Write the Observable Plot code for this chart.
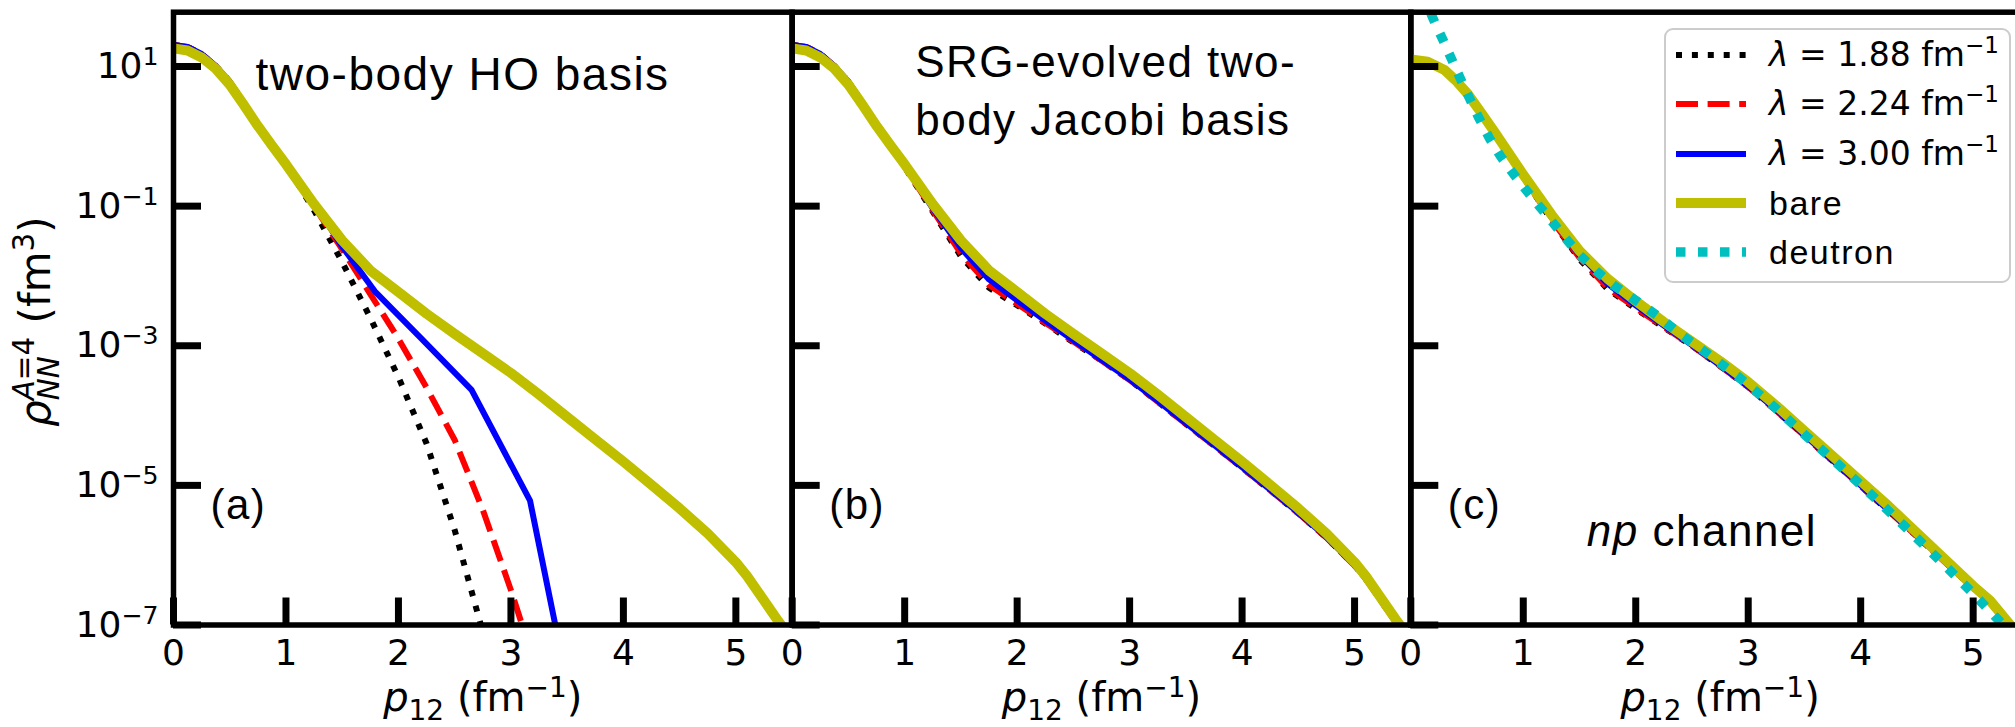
<!DOCTYPE html>
<html><head><meta charset="utf-8">
<script src="https://cdn.jsdelivr.net/npm/d3@7"></script>
<script src="https://cdn.jsdelivr.net/npm/@observablehq/plot@0.6"></script>
<style>
html,body{margin:0;padding:0;background:#fff;}
#chart{position:relative;width:2015px;height:727px;overflow:hidden;background:#fff;}
g[font-family^="Liberation"] text{letter-spacing:1.5px;}
#legend{position:absolute;left:1664px;top:28px;width:347px;height:255px;box-sizing:border-box;border:2px solid #cccccc;border-radius:9px;background:rgba(255,255,255,0.8);}
#legend .row{position:absolute;left:0;width:100%;height:40px;}
#legend svg{position:absolute;left:9px;top:8px;}
#legend .lt{position:absolute;left:103px;top:0;height:40px;line-height:40px;white-space:nowrap;color:#000;}
#legend .math{font-family:'DejaVu Sans';font-size:33px;}
#legend .plain{font-family:'Liberation Sans';font-size:34px;letter-spacing:1.5px;}
#legend .sup{font-size:23px;position:relative;top:-13px;}
</style></head>
<body><div id="chart"></div>
<script>
// ---------- data ----------
const xTicks = [0, 1, 2, 3, 4, 5];
const yTicks = [1e1, 1e-1, 1e-3, 1e-5, 1e-7];
const yTickLabels = ["10^{1}", "10^{−1}", "10^{−3}", "10^{−5}", "10^{−7}"];
const panelLetters = ["(a)", "(b)", "(c)"];
const seriesNames = ["λ = 1.88 fm^{−1}", "λ = 2.24 fm^{−1}", "λ = 3.00 fm^{−1}", "bare", "deutron"];

// panels (a) and (b): common momentum grid, bare curve shared
const pGridAB = [0, 0.125, 0.25, 0.375, 0.5, 0.625, 0.75, 0.875, 1.0, 1.25, 1.5, 1.75, 2.0, 2.25, 2.5, 2.75, 3.0, 3.25, 3.5, 3.75, 4.0, 4.25, 4.5, 4.75, 5.0, 5.1, 5.38, 5.45];
const rhoBare_AB = [18.2, 17.0, 13.5, 9.33, 5.50, 2.82, 1.41, 0.741, 0.398, 0.107, 3.24e-2, 1.20e-2, 5.89e-3, 2.88e-3, 1.48e-3, 7.76e-4, 4.07e-4, 2.00e-4, 9.55e-5, 4.57e-5, 2.19e-5, 1.02e-5, 4.68e-6, 2.04e-6, 7.94e-7, 5.01e-7, 1.12e-7, 7.94e-8];

// panel (a): two-body HO basis
const pBlack_A = [0, 0.125, 0.25, 0.375, 0.5, 0.625, 0.75, 0.875, 1.0, 1.25, 1.5, 1.75, 2.0, 2.25, 2.5, 2.75];
const rhoBlack_A = [20.4, 19.1, 15.1, 10.2, 6.03, 3.02, 1.48, 0.759, 0.398, 8.71e-2, 1.58e-2, 2.51e-3, 3.55e-4, 3.98e-5, 2.29e-6, 7.94e-8];
const pRed_A = [0, 0.125, 0.25, 0.375, 0.5, 0.625, 0.75, 0.875, 1.0, 1.25, 1.5, 1.75, 2.0, 2.25, 2.5, 2.75, 3.0, 3.15];
const rhoRed_A = [20.4, 19.1, 15.1, 10.2, 6.03, 3.02, 1.48, 0.759, 0.398, 0.100, 2.40e-2, 5.50e-3, 1.26e-3, 2.51e-4, 4.47e-5, 4.47e-6, 3.16e-7, 5.62e-8];
const pBlue_A = [0, 0.125, 0.25, 0.375, 0.5, 0.625, 0.75, 0.875, 1.0, 1.25, 1.5, 1.79, 2.2, 2.65, 3.17, 3.42];
const rhoBlue_A = [20.4, 19.1, 15.1, 10.2, 6.03, 3.02, 1.48, 0.759, 0.398, 0.112, 2.63e-2, 6.03e-3, 1.29e-3, 2.34e-4, 6.03e-6, 6.31e-8];

// panel (b): SRG-evolved two-body Jacobi basis (on pGridAB)
const rhoBlack_B = [20.4, 19.1, 15.1, 10.2, 6.03, 3.02, 1.45, 0.741, 0.363, 8.32e-2, 1.91e-2, 6.76e-3, 3.80e-3, 2.09e-3, 1.12e-3, 6.17e-4, 3.24e-4, 1.58e-4, 7.59e-5, 3.72e-5, 1.78e-5, 8.51e-6, 3.98e-6, 1.78e-6, 7.08e-7, 4.57e-7, 1.02e-7, 7.08e-8];
const rhoRed_B = [20.4, 19.1, 15.1, 10.2, 6.03, 3.02, 1.45, 0.741, 0.372, 8.71e-2, 2.09e-2, 7.41e-3, 3.98e-3, 2.14e-3, 1.15e-3, 6.17e-4, 3.24e-4, 1.58e-4, 7.59e-5, 3.72e-5, 1.78e-5, 8.51e-6, 3.98e-6, 1.78e-6, 7.08e-7, 4.57e-7, 1.02e-7, 7.08e-8];
const rhoBlue_B = [20.4, 19.1, 15.1, 10.2, 6.03, 3.02, 1.45, 0.741, 0.380, 9.33e-2, 2.51e-2, 8.91e-3, 4.47e-3, 2.29e-3, 1.20e-3, 6.31e-4, 3.31e-4, 1.62e-4, 7.76e-5, 3.80e-5, 1.82e-5, 8.71e-6, 4.07e-6, 1.82e-6, 7.24e-7, 4.68e-7, 1.05e-7, 7.08e-8];

// panel (c): np channel
const pGridC = [0, 0.15, 0.3, 0.4, 0.5, 0.625, 0.75, 0.875, 1.0, 1.25, 1.5, 1.75, 2.0, 2.25, 2.5, 2.75, 3.0, 3.25, 3.5, 3.75, 4.0, 4.25, 4.5, 4.75, 5.0, 5.15, 5.33, 5.4];
const rhoBare_C = [12.6, 11.7, 8.91, 6.31, 4.17, 2.19, 1.12, 0.562, 0.282, 7.59e-2, 2.29e-2, 9.12e-3, 4.37e-3, 2.19e-3, 1.15e-3, 6.03e-4, 3.02e-4, 1.38e-4, 6.03e-5, 2.63e-5, 1.15e-5, 5.01e-6, 2.09e-6, 8.71e-7, 3.63e-7, 2.24e-7, 1.0e-7, 7.08e-8];
const rhoBlue_C = [12.6, 11.7, 8.91, 6.31, 4.17, 2.19, 1.10, 0.550, 0.269, 6.92e-2, 2.00e-2, 7.76e-3, 3.80e-3, 1.95e-3, 1.02e-3, 5.25e-4, 2.63e-4, 1.20e-4, 5.25e-5, 2.29e-5, 1.00e-5, 4.37e-6, 1.91e-6, 8.13e-7, 3.47e-7, 2.14e-7, 9.55e-8, 7.08e-8];
const rhoRed_C = [12.6, 11.7, 8.91, 6.31, 4.17, 2.19, 1.10, 0.550, 0.263, 6.46e-2, 1.82e-2, 6.76e-3, 3.47e-3, 1.86e-3, 1.00e-3, 5.13e-4, 2.57e-4, 1.17e-4, 5.13e-5, 2.24e-5, 9.77e-6, 4.27e-6, 1.86e-6, 7.94e-7, 3.39e-7, 2.09e-7, 9.33e-8, 7.08e-8];
const rhoBlack_C = [12.6, 11.7, 8.91, 6.31, 4.17, 2.19, 1.10, 0.550, 0.263, 6.31e-2, 1.74e-2, 6.46e-3, 3.39e-3, 1.82e-3, 1.00e-3, 5.13e-4, 2.57e-4, 1.17e-4, 5.13e-5, 2.24e-5, 9.77e-6, 4.27e-6, 1.86e-6, 7.94e-7, 3.39e-7, 2.09e-7, 9.33e-8, 7.08e-8];
const pDeut_C = [0.1, 0.2, 0.3, 0.4, 0.5, 0.6, 0.7, 0.8, 0.9, 1.0, 1.1, 1.2, 1.35, 1.5, 1.65, 1.8, 2.0, 2.2, 2.4, 2.6, 2.9, 3.2, 3.5, 3.8, 4.1, 4.4, 4.7, 5.0, 5.25, 5.35];
const rhoDeut_C = [112, 47.9, 21.4, 9.33, 4.17, 1.91, 0.933, 0.513, 0.309, 0.191, 0.120, 7.76e-2, 3.89e-2, 2.00e-2, 1.17e-2, 7.41e-3, 4.47e-3, 2.63e-3, 1.45e-3, 8.51e-4, 3.72e-4, 1.48e-4, 5.37e-5, 2.00e-5, 7.24e-6, 2.51e-6, 8.51e-7, 2.82e-7, 1.07e-7, 7.08e-8];

// ---------- styles ----------
const STY = {
  black: {stroke: "#000000", strokeWidth: 6, strokeDasharray: "6,9.9", strokeLinecap: "butt"},
  red:   {stroke: "#ff0000", strokeWidth: 6, strokeDasharray: "22,9.6", strokeLinecap: "butt"},
  blue:  {stroke: "#0000ff", strokeWidth: 6, strokeLinecap: "square"},
  bare:  {stroke: "#bfbf00", strokeWidth: 10, strokeLinecap: "square"},
  deut:  {stroke: "#00bfbf", strokeWidth: 9.5, strokeDasharray: "9.5,12.5", strokeLinecap: "butt"}
};

const W = 2030, H = 727, TOP = 11.7, BOT = 624.5, PW = 618.6;
const LEFTS = [173, 791.7, 1410.3];
const ANNOT = "Liberation Sans";

function rows(p, v) { return p.map((x, i) => ({p: x, v: v[i]})); }

function panel(i, series, extra) {
  const L = LEFTS[i];
  const marks = [];
  for (const [p, v, st] of series) marks.push(Plot.line(rows(p, v), {x: "p", y: "v", clip: true, strokeLinejoin: "round", ...st}));
  marks.push(Plot.tickY(yTicks, {y: d => d, stroke: "#000", strokeWidth: 7, insetRight: PW - 28}));
  marks.push(Plot.tickX(xTicks, {x: d => d, stroke: "#000", strokeWidth: 7, insetTop: (BOT - TOP) - 27}));
  marks.push(Plot.frame({stroke: "#000", strokeWidth: 5.5}));
  marks.push(Plot.axisX(xTicks, {tickSize: 0, tickPadding: 14, tickFormat: d => String(d), fill: "#000", label: null}));
  marks.push(Plot.text(["*p*_{12} (fm^{−1})"], {text: d => d, frameAnchor: "bottom", dy: 86, lineAnchor: "bottom", fontSize: 40, fill: "#000"}));
  marks.push(Plot.text([panelLetters[i]], {text: d => d, frameAnchor: "top-left", dx: 37, dy: 507, lineAnchor: "bottom", textAnchor: "start", fontFamily: ANNOT, fontSize: 42, fill: "#000"}));
  marks.push(...extra);
  return Plot.plot({
    width: W, height: H,
    marginLeft: L, marginRight: W - L - PW, marginTop: TOP, marginBottom: H - BOT,
    x: {type: "linear", domain: [0, 5.5], axis: null, label: null},
    y: {type: "log", domain: [1e-7, 60], axis: null, label: null},
    style: "position:absolute;left:0;top:0;background:none;max-width:none;overflow:visible;font-family:'DejaVu Sans';font-size:36px;color:#000;",
    marks
  });
}

const pa = panel(0, [
  [pBlack_A, rhoBlack_A, STY.black],
  [pRed_A, rhoRed_A, STY.red],
  [pBlue_A, rhoBlue_A, STY.blue],
  [pGridAB, rhoBare_AB, STY.bare]
], [
  Plot.axisY(yTicks, {anchor: "left", tickSize: 0, tickPadding: 15, tickFormat: d => yTickLabels[yTicks.indexOf(d)], fill: "#000", label: null}),
  Plot.text(["*ρ*_{*NN*}^{*A*=4} (fm^{3})"], {text: d => d, frameAnchor: "left", dx: -124, dy: 3, rotate: -90, lineAnchor: "bottom", textAnchor: "middle", fontSize: 42, fill: "#000"}),
  Plot.text(["two-body HO basis"], {text: d => d, frameAnchor: "top-left", dx: 82, dy: 77.6, lineAnchor: "bottom", textAnchor: "start", fontFamily: ANNOT, fontSize: 46, fill: "#000"})
]);

const pb = panel(1, [
  [pGridAB, rhoBlack_B, STY.black],
  [pGridAB, rhoRed_B, STY.red],
  [pGridAB, rhoBlue_B, STY.blue],
  [pGridAB, rhoBare_AB, STY.bare]
], [
  Plot.text(["SRG-evolved two-"], {text: d => d, frameAnchor: "top-left", dx: 123, dy: 65, lineAnchor: "bottom", textAnchor: "start", fontFamily: ANNOT, fontSize: 44, fill: "#000"}),
  Plot.text(["body Jacobi basis"], {text: d => d, frameAnchor: "top-left", dx: 123, dy: 123, lineAnchor: "bottom", textAnchor: "start", fontFamily: ANNOT, fontSize: 44, fill: "#000"})
]);

const pc = panel(2, [
  [pGridC, rhoBlack_C, STY.black],
  [pGridC, rhoRed_C, STY.red],
  [pGridC, rhoBlue_C, STY.blue],
  [pGridC, rhoBare_C, STY.bare],
  [pDeut_C, rhoDeut_C, STY.deut]
], [
  Plot.text(["*np* channel"], {text: d => d, frameAnchor: "top-left", dx: 176, dy: 534, lineAnchor: "bottom", textAnchor: "start", fontFamily: ANNOT, fontSize: 44, fill: "#000"})
]);

const chart = document.getElementById("chart");
chart.append(pa, pb, pc);

// ---------- rich text (super/subscripts, italics) ----------
function richify(root) {
  const NS = "http://www.w3.org/2000/svg";
  root.querySelectorAll("text").forEach(t => {
    if (t.querySelector("tspan")) return;
    const s = t.textContent;
    if (!/[\^_*]/.test(s)) return;
    const fs = parseFloat(getComputedStyle(t).fontSize);
    const groups = [];
    const re = /\^\{([^}]*)\}|_\{([^}]*)\}|([^\^_]+)/g;
    let m;
    while ((m = re.exec(s))) {
      const level = m[1] !== undefined ? 1 : m[2] !== undefined ? -1 : 0;
      groups.push({level, pieces: (m[1] ?? m[2] ?? m[3]).split("*")});
    }
    t.textContent = "";
    t.style.whiteSpace = "pre";
    let cur = 0, prev = null;
    for (const g of groups) {
      const off = g.level === 1 ? -0.36 * fs : g.level === -1 ? 0.22 * fs : 0;
      const spans = [];
      let first = true;
      g.pieces.forEach((piece, j) => {
        if (!piece) return;
        const ts = document.createElementNS(NS, "tspan");
        ts.textContent = piece;
        if (g.level) ts.setAttribute("font-size", (0.7 * fs).toFixed(2));
        if (j % 2) ts.setAttribute("font-style", "italic");
        if (first) {
          const dy = off - cur;
          if (Math.abs(dy) > 1e-6) ts.setAttribute("dy", dy.toFixed(2));
          if (prev && prev.level === -1 && g.level === 1) {
            t.appendChild(ts);
            const w = prev.spans.reduce((a, e) => a + e.getComputedTextLength(), 0);
            ts.setAttribute("dx", (-w).toFixed(2));
          }
          first = false;
        }
        t.appendChild(ts);
        spans.push(ts);
      });
      cur = off;
      prev = {level: g.level, spans};
    }
  });
}
richify(chart);

// ---------- legend (inside panel c) ----------
const legendStyles = [STY.black, STY.red, STY.blue, STY.bare, STY.deut];
const rowTops = [5, 54, 104, 153, 202];
const leg = document.createElement("div");
leg.id = "legend";
seriesNames.forEach((name, i) => {
  const st = legendStyles[i];
  const row = document.createElement("div");
  row.className = "row";
  row.style.top = rowTops[i] + "px";
  const dash = st.strokeDasharray ? ` stroke-dasharray="${st.strokeDasharray}"` : "";
  const label = name.includes("^")
    ? `<span class="lt math"><i>${name.split(" ")[0]}</i> ${name.slice(2).replace(/\^\{([^}]*)\}/, '<span class="sup">$1</span>')}</span>`
    : `<span class="lt plain">${name}</span>`;
  row.innerHTML = `<svg width="72" height="24"><line x1="1" y1="12" x2="71" y2="12" stroke="${st.stroke}" stroke-width="${st.strokeWidth}" stroke-linecap="butt"${dash}/></svg>${label}`;
  leg.appendChild(row);
});
chart.appendChild(leg);
</script>
</body></html>
